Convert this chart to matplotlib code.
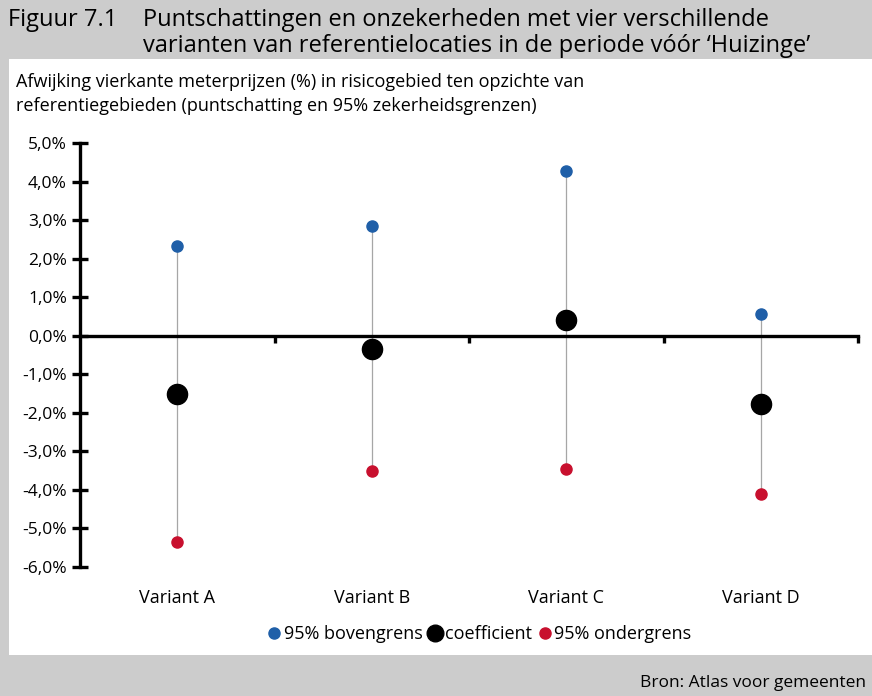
import matplotlib.pyplot as plt
from matplotlib.patches import Rectangle
from matplotlib.lines import Line2D

varianten = ["Variant A", "Variant B", "Variant C", "Variant D"]
bovengrens = [2.34, 2.85, 4.27, 0.56]
coefficient = [-1.50, -0.35, 0.41, -1.77]
ondergrens = [-5.34, -3.51, -3.46, -4.10]
y_ticks = [5, 4, 3, 2, 1, 0, -1, -2, -3, -4, -5, -6]

plt.rcParams["font.family"] = ["Open Sans", "DejaVu Sans"]

W, H = 872, 696
fig = plt.figure(figsize=(W / 100, H / 100), dpi=100)
fig.patch.set_facecolor("#cccccc")

# witte kader
fig.patches.append(Rectangle((9 / W, (H - 655) / H), 1, (655 - 59) / H,
                             transform=fig.transFigure, facecolor="white",
                             edgecolor="none", zorder=-5))

fig.text(8 / W, 1 - 20 / H, "Figuur 7.1", fontsize=17, va="center", ha="left")
fig.text(143 / W, 1 - 20 / H, "Puntschattingen en onzekerheden met vier verschillende",
         fontsize=17, va="center", ha="left")
fig.text(143 / W, 1 - 46 / H, "varianten van referentielocaties in de periode vóór \u2018Huizinge\u2019",
         fontsize=17, va="center", ha="left")

fig.text(16 / W, 1 - 82 / H,
         "Afwijking vierkante meterprijzen (%) in risicogebied ten opzichte van",
         fontsize=13, va="center", ha="left")
fig.text(16 / W, 1 - 106 / H,
         "referentiegebieden (puntschatting en 95% zekerheidsgrenzen)",
         fontsize=13, va="center", ha="left")

fig.text(866 / W, 1 - 683 / H, "Bron: Atlas voor gemeenten", fontsize=12.5,
         va="center", ha="right")

ax = fig.add_axes([80 / W, (H - 567) / H, (858 - 80) / W, (567 - 143) / H])
ax.set_facecolor("none")

x = [i + 0.5 for i in range(len(varianten))]
for xi, lo, hi in zip(x, ondergrens, bovengrens):
    ax.plot([xi, xi], [lo, hi], color="#a6a6a6", lw=0.9, zorder=2)
ax.plot(x, bovengrens, "o", color="#1f5fa8", ms=8, zorder=3, clip_on=False)
ax.plot(x, coefficient, "o", color="black", ms=14.5, zorder=4, clip_on=False)
ax.plot(x, ondergrens, "o", color="#c8102e", ms=8, zorder=3, clip_on=False)

ax.set_xlim(0, 4)
ax.set_ylim(-6, 5)
ax.spines["top"].set_visible(False)
ax.spines["right"].set_visible(False)
ax.spines["bottom"].set_position(("data", 0))
ax.spines["left"].set_linewidth(2.4)
ax.spines["bottom"].set_linewidth(2.4)

ax.set_yticks(y_ticks)
ax.set_yticklabels([f"{v:.1f}%".replace(".", ",") for v in y_ticks], fontsize=12.5)
ax.tick_params(axis="y", direction="inout", length=11, width=2.4, pad=4)
ax.set_xticks([1, 2, 3, 4])
ax.set_xticklabels([])
ax.tick_params(axis="x", direction="out", length=5, width=2.4)

for xi, naam in zip(x, varianten):
    ax.text(xi, -6.0 - 31 / 38.5, naam, fontsize=13, ha="center", va="center",
            clip_on=False)

handles = [
    Line2D([], [], marker="o", ls="", color="#1f5fa8", ms=8),
    Line2D([], [], marker="o", ls="", color="black", ms=12),
    Line2D([], [], marker="o", ls="", color="#c8102e", ms=8),
]
fig.legend(handles, ["95% bovengrens", "coefficient", "95% ondergrens"],
           loc="center", bbox_to_anchor=(479 / W, 1 - 634 / H), ncol=3,
           frameon=False, fontsize=13, handletextpad=0.15, columnspacing=0.3,
           handlelength=0.8)

fig.savefig("out.png", dpi=100, facecolor=fig.get_facecolor())
